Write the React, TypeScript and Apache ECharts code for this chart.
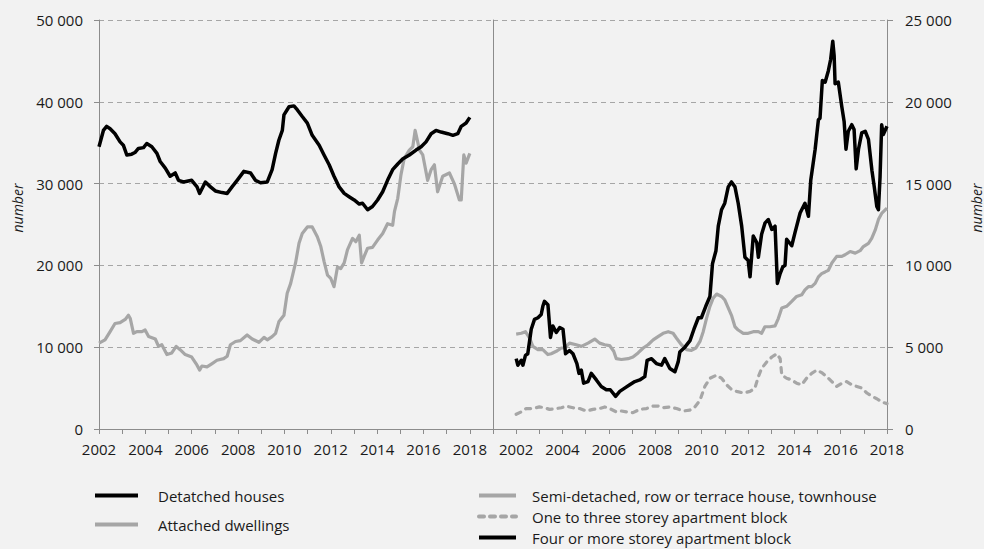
import React, { useEffect, useRef } from "react";
import * as echarts from "echarts";

// ---------- Data (decimal year, value) ----------
const detachedHouses: [number, number][] = [
  [2002.0,34500],[2002.19,36500],[2002.33,37000],[2002.48,36700],[2002.69,36100],[2002.91,35100],[2003.05,34700],[2003.2,33500],[2003.41,33600],[2003.55,33800],[2003.7,34300],[2003.92,34400],[2004.06,34900],[2004.28,34500],[2004.5,33700],[2004.64,32700],[2004.86,31900],[2005.07,30900],[2005.29,31300],[2005.43,30400],[2005.65,30200],[2006.0,30400],[2006.23,29600],[2006.34,28800],[2006.59,30200],[2006.81,29600],[2007.02,29100],[2007.31,28900],[2007.53,28800],[2007.74,29600],[2007.96,30400],[2008.25,31500],[2008.54,31300],[2008.75,30400],[2008.97,30100],[2009.26,30200],[2009.47,31700],[2009.62,33700],[2009.76,35300],[2009.91,36500],[2009.98,38400],[2010.2,39400],[2010.41,39500],[2010.56,39000],[2010.77,38200],[2010.99,37400],[2011.2,35900],[2011.5,34700],[2011.71,33500],[2011.93,32300],[2012.14,30900],[2012.36,29600],[2012.58,28800],[2012.79,28400],[2013.01,28000],[2013.23,27500],[2013.37,27600],[2013.59,26800],[2013.8,27200],[2014.02,28000],[2014.24,29000],[2014.45,30400],[2014.67,31700],[2014.89,32400],[2015.1,33000],[2015.39,33500],[2015.68,34100],[2015.9,34500],[2016.11,35100],[2016.33,36100],[2016.54,36500],[2016.76,36300],[2017.05,36100],[2017.27,35900],[2017.48,36100],[2017.63,37000],[2017.84,37400],[2018.0,38100]
];

const attachedDwellings: [number, number][] = [
  [2002.0,10500],[2002.26,10900],[2002.48,11900],[2002.69,12900],[2002.91,13000],[2003.13,13400],[2003.27,13900],[2003.35,13500],[2003.49,11700],[2003.63,11900],[2003.85,11900],[2003.99,12100],[2004.14,11300],[2004.43,11000],[2004.57,10100],[2004.71,10300],[2004.93,9100],[2005.14,9300],[2005.33,10100],[2005.5,9700],[2005.72,9100],[2006.0,8800],[2006.23,7800],[2006.34,7200],[2006.44,7700],[2006.66,7600],[2006.88,8000],[2007.09,8400],[2007.38,8600],[2007.53,8900],[2007.67,10300],[2007.89,10700],[2008.1,10800],[2008.39,11500],[2008.61,11000],[2008.9,10600],[2009.12,11200],[2009.26,10900],[2009.47,11300],[2009.62,11700],[2009.76,13100],[2009.98,13900],[2010.12,16600],[2010.27,17800],[2010.48,20300],[2010.63,22700],[2010.77,23900],[2010.99,24700],[2011.2,24700],[2011.42,23500],[2011.57,22300],[2011.71,20500],[2011.86,18800],[2012.0,18400],[2012.14,17400],[2012.29,19800],[2012.43,19600],[2012.58,20300],[2012.72,21900],[2012.94,23300],[2013.08,22900],[2013.23,23700],[2013.33,20300],[2013.44,21100],[2013.59,22100],[2013.8,22200],[2014.02,23100],[2014.24,23900],[2014.45,25100],[2014.67,24900],[2014.75,26600],[2014.89,28200],[2015.03,31100],[2015.17,33100],[2015.39,34100],[2015.54,34500],[2015.64,36500],[2015.83,34100],[2015.97,33500],[2016.18,30400],[2016.33,31700],[2016.47,32300],[2016.61,29000],[2016.83,30900],[2017.12,31300],[2017.33,30000],[2017.55,28000],[2017.63,28000],[2017.74,33500],[2017.84,32500],[2018.0,33700]
];

const semiDetached: [number, number][] = [
  [2002.0,5800],[2002.22,5850],[2002.4,5950],[2002.58,5550],[2002.72,5050],[2002.94,4850],[2003.15,4850],[2003.37,4550],[2003.51,4600],[2003.73,4750],[2003.95,4950],[2004.09,4950],[2004.3,5250],[2004.59,5150],[2004.81,5050],[2005.1,5250],[2005.39,5500],[2005.6,5250],[2005.82,5150],[2006.03,5100],[2006.21,4750],[2006.32,4300],[2006.54,4250],[2006.83,4300],[2007.04,4400],[2007.26,4650],[2007.48,4950],[2007.69,5150],[2007.91,5450],[2008.12,5650],[2008.34,5850],[2008.56,5950],[2008.77,5850],[2008.92,5550],[2009.13,5150],[2009.35,4850],[2009.56,4800],[2009.75,4950],[2009.93,5350],[2010.07,5950],[2010.21,6750],[2010.36,7500],[2010.5,8000],[2010.65,8250],[2010.86,8100],[2011.0,7900],[2011.15,7400],[2011.29,6950],[2011.44,6250],[2011.58,6050],[2011.8,5850],[2012.01,5850],[2012.23,5950],[2012.45,5950],[2012.59,5850],[2012.73,6250],[2012.95,6250],[2013.17,6300],[2013.31,6750],[2013.46,7400],[2013.67,7500],[2013.89,7800],[2014.1,8100],[2014.32,8200],[2014.46,8500],[2014.61,8700],[2014.75,8700],[2014.9,8900],[2015.04,9300],[2015.18,9500],[2015.33,9600],[2015.47,9700],[2015.62,10150],[2015.83,10550],[2016.05,10550],[2016.19,10650],[2016.41,10850],[2016.63,10750],[2016.84,10900],[2016.98,11150],[2017.2,11350],[2017.34,11650],[2017.49,12150],[2017.63,12800],[2017.78,13200],[2018.0,13500]
];

const oneToThreeStorey: [number, number][] = [
  [2002.0,900],[2002.22,1050],[2002.43,1250],[2002.72,1250],[2003.0,1350],[2003.22,1300],[2003.44,1200],[2003.73,1250],[2003.95,1300],[2004.16,1400],[2004.45,1300],[2004.74,1250],[2005.03,1100],[2005.31,1200],[2005.6,1250],[2005.82,1350],[2006.03,1250],[2006.32,1050],[2006.54,1100],[2006.76,1050],[2007.04,1000],[2007.33,1200],[2007.62,1250],[2007.91,1400],[2008.12,1400],[2008.34,1300],[2008.63,1350],[2008.92,1250],[2009.21,1100],[2009.49,1150],[2009.71,1350],[2009.93,1750],[2010.14,2600],[2010.36,3100],[2010.65,3300],[2010.86,3100],[2011.08,2700],[2011.3,2400],[2011.51,2300],[2011.8,2200],[2012.09,2300],[2012.3,2500],[2012.45,3200],[2012.59,3700],[2012.81,4100],[2013.03,4400],[2013.24,4600],[2013.39,4300],[2013.46,3300],[2013.67,3100],[2013.89,3000],[2014.1,2800],[2014.32,2700],[2014.53,3100],[2014.75,3400],[2014.97,3600],[2015.18,3450],[2015.4,3200],[2015.62,2900],[2015.83,2600],[2016.05,2800],[2016.26,2900],[2016.48,2700],[2016.7,2600],[2016.91,2500],[2017.13,2200],[2017.35,2000],[2017.56,1850],[2017.78,1650],[2018.0,1550]
];

const fourPlusStorey: [number, number][] = [
  [2002.0,4300],[2002.07,3900],[2002.22,4200],[2002.29,3900],[2002.4,4500],[2002.5,4600],[2002.65,6100],[2002.79,6700],[2002.94,6800],[2003.08,7000],[2003.15,7500],[2003.22,7800],[2003.37,7600],[2003.48,5600],[2003.58,6300],[2003.73,5900],[2003.88,6200],[2004.02,6100],[2004.13,4600],[2004.3,4800],[2004.45,4600],[2004.62,4000],[2004.71,3400],[2004.81,3600],[2004.91,2800],[2005.1,2900],[2005.24,3400],[2005.46,3000],[2005.67,2600],[2005.89,2400],[2006.06,2400],[2006.29,2000],[2006.47,2300],[2006.68,2500],[2006.9,2700],[2007.12,2900],[2007.33,3000],[2007.55,3200],[2007.65,4200],[2007.84,4300],[2008.05,4000],[2008.27,3900],[2008.41,4300],[2008.63,3700],[2008.85,3500],[2008.99,4100],[2009.06,4700],[2009.28,5000],[2009.5,5400],[2009.67,6100],[2009.86,6800],[2009.99,6800],[2010.18,7500],[2010.36,8100],[2010.47,10100],[2010.62,10900],[2010.72,12400],[2010.86,13400],[2011.0,13800],[2011.15,14800],[2011.29,15100],[2011.44,14800],[2011.58,13800],[2011.73,12400],[2011.87,10500],[2012.01,10300],[2012.09,9300],[2012.23,11800],[2012.38,11400],[2012.45,10500],[2012.59,11900],[2012.74,12600],[2012.88,12800],[2013.03,12200],[2013.17,12400],[2013.27,8900],[2013.39,9500],[2013.5,9900],[2013.6,10000],[2013.67,11600],[2013.89,11200],[2014.03,12000],[2014.25,13200],[2014.46,13800],[2014.61,13000],[2014.71,15200],[2014.9,17100],[2015.04,18900],[2015.11,19000],[2015.21,21300],[2015.33,21200],[2015.47,21900],[2015.57,22600],[2015.66,23700],[2015.72,22800],[2015.76,21100],[2015.9,21200],[2016.05,19700],[2016.15,18800],[2016.23,17100],[2016.33,18200],[2016.48,18600],[2016.58,18300],[2016.67,15900],[2016.77,17100],[2016.91,18100],[2017.06,18200],[2017.2,17700],[2017.35,15800],[2017.45,14800],[2017.56,13600],[2017.63,13400],[2017.7,15400],[2017.77,18600],[2017.84,18000],[2018.0,18500]
];

const leftLegend = ["Detatched houses", "Attached dwellings"];
const rightLegend = [
  "Semi-detached, row or terrace house, townhouse",
  "One to three storey apartment block",
  "Four or more storey apartment block",
];
const axisTitle = "number";

// ---------- Styles ----------
const FONT = "'Open Sans', 'Noto Sans', sans-serif";
const BLACK = "#000000";
const GRAY = "#a6a6a6";
const AXIS = "#8c8c8c";
const GRID = "#a6a6a6";
const TEXT = "#1a1a1a";

const fmtThousands = (v: number) => {
  if (v === 0) return "0";
  const s = String(Math.round(v));
  return s.slice(0, s.length - 3) + " " + s.slice(-3);
};

export default function App() {
  const ref = useRef<HTMLDivElement>(null);
  useEffect(() => {
    document.body.style.margin = "0";
    document.body.style.background = "#f2f2f2";
    if (!ref.current) return;
    const chart = echarts.init(ref.current, undefined, { renderer: "svg" });

    const xCommon = (min: number, max: number, gridIndex: number, lo: number, hi: number) => ({
      type: "value",
      gridIndex,
      min,
      max,
      interval: 1,
      axisLine: { show: true, lineStyle: { color: AXIS, width: 1 } },
      axisTick: { show: true, length: 5, inside: false, lineStyle: { color: AXIS } },
      axisLabel: {
        color: TEXT,
        fontFamily: FONT,
        fontSize: 15,
        margin: 12,
        formatter: (v: number) => (v % 2 === 0 && v >= lo && v <= hi ? String(v) : ""),
      },
      splitLine: { show: false },
    });

    const legendCommon = {
      orient: "vertical",
      top: 488,
      padding: 0,
      itemHeight: 15,
      selectedMode: false,
      itemStyle: { opacity: 0 },
      lineStyle: { width: 4 },
    };

    const titleStyle = {
      text: axisTitle,
      fill: TEXT,
      font: "italic 14px 'Open Sans', sans-serif",
      align: "center",
      verticalAlign: "middle",
    };

    const option: any = {
      animation: false,
      backgroundColor: "#f2f2f2",
      grid: [
        { left: 99, top: 20, width: 394, height: 409, containLabel: false },
        { left: 493, top: 20, width: 394, height: 409, containLabel: false },
      ],
      xAxis: [xCommon(2002, 2019, 0, 2002, 2018), xCommon(2001, 2018, 1, 2002, 2018)],
      yAxis: [
        {
          type: "value",
          gridIndex: 0,
          min: 0,
          max: 50000,
          interval: 10000,
          position: "left",
          axisLine: { show: true, lineStyle: { color: AXIS } },
          axisTick: { show: true, length: 5, lineStyle: { color: AXIS } },
          axisLabel: { color: TEXT, fontFamily: FONT, fontSize: 15, margin: 16, formatter: fmtThousands },
          splitLine: { show: true, lineStyle: { color: GRID, type: [5, 4], width: 1 } },
        },
        {
          type: "value",
          gridIndex: 1,
          min: 0,
          max: 25000,
          interval: 5000,
          position: "right",
          axisLine: { show: true, lineStyle: { color: AXIS } },
          axisTick: { show: true, length: 6, lineStyle: { color: AXIS } },
          axisLabel: { color: TEXT, fontFamily: FONT, fontSize: 15, margin: 18, formatter: fmtThousands },
          splitLine: { show: true, lineStyle: { color: GRID, type: [5, 4], width: 1 } },
        },
        {
          type: "value",
          gridIndex: 0,
          min: 0,
          max: 1,
          position: "right",
          axisLine: { show: true, lineStyle: { color: AXIS } },
          axisTick: { show: false },
          axisLabel: { show: false },
          splitLine: { show: false },
        },
      ],
      legend: [
        {
          ...legendCommon,
          data: leftLegend,
          left: 93,
          itemWidth: 43,
          itemGap: 14,
          textStyle: { color: TEXT, fontFamily: FONT, fontSize: 15, padding: [0, 0, 0, 15] },
        },
        {
          ...legendCommon,
          data: rightLegend,
          left: 477,
          itemWidth: 37,
          itemGap: 6,
          textStyle: { color: TEXT, fontFamily: FONT, fontSize: 15, padding: [0, 0, 0, 11] },
        },
      ],
      graphic: [
        { type: "text", x: 17, y: 208, rotation: Math.PI / 2, style: titleStyle },
        { type: "text", x: 976, y: 208, rotation: Math.PI / 2, style: titleStyle },
      ],
      series: [
        {
          name: leftLegend[1],
          type: "line",
          xAxisIndex: 0,
          yAxisIndex: 0,
          data: attachedDwellings,
          symbol: "none",
          z: 2,
          lineStyle: { color: GRAY, width: 3.2, join: "round" },
          itemStyle: { color: GRAY },
        },
        {
          name: leftLegend[0],
          type: "line",
          xAxisIndex: 0,
          yAxisIndex: 0,
          data: detachedHouses,
          symbol: "none",
          z: 3,
          lineStyle: { color: BLACK, width: 3.5, join: "round" },
          itemStyle: { color: BLACK },
        },
        {
          name: rightLegend[0],
          type: "line",
          xAxisIndex: 1,
          yAxisIndex: 1,
          data: semiDetached,
          symbol: "none",
          z: 2,
          lineStyle: { color: GRAY, width: 3.2, join: "round" },
          itemStyle: { color: GRAY },
        },
        {
          name: rightLegend[1],
          type: "line",
          xAxisIndex: 1,
          yAxisIndex: 1,
          data: oneToThreeStorey,
          symbol: "none",
          z: 2,
          lineStyle: { color: GRAY, width: 3.2, type: [5, 6], cap: "round", join: "round" },
          itemStyle: { color: GRAY },
        },
        {
          name: rightLegend[2],
          type: "line",
          xAxisIndex: 1,
          yAxisIndex: 1,
          data: fourPlusStorey,
          symbol: "none",
          z: 3,
          lineStyle: { color: BLACK, width: 3.5, join: "round" },
          itemStyle: { color: BLACK },
        },
      ],
    };

    chart.setOption(option);
    return () => chart.dispose();
  }, []);

  return <div ref={ref} style={{ width: 984, height: 549 }} />;
}
